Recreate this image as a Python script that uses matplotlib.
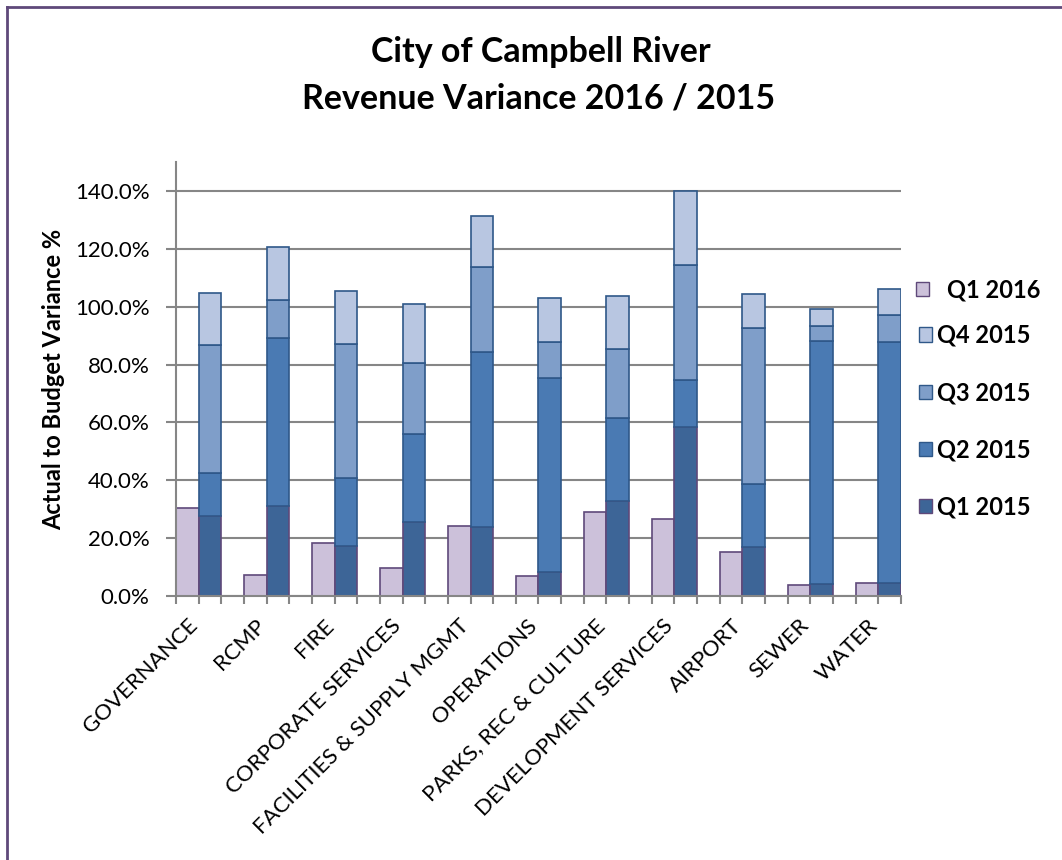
import numpy as np
import matplotlib.pyplot as plt
from matplotlib.lines import Line2D
from matplotlib.patches import Patch

plt.rcParams['font.family'] = ['Lato', 'DejaVu Sans']

categories = ['GOVERNANCE', 'RCMP', 'FIRE', 'CORPORATE SERVICES', 'FACILITIES & SUPPLY MGMT',
              'OPERATIONS', 'PARKS, REC & CULTURE', 'DEVELOPMENT SERVICES', 'AIRPORT', 'SEWER', 'WATER']
q1_2016 = [30.4, 7.3, 18.2, 9.6, 24.3, 6.9, 29.1, 26.6, 15.3, 3.7, 4.5]
q1_2015 = [27.8, 31.2, 17.2, 25.6, 23.7, 8.2, 32.7, 58.3, 16.8, 4.1, 4.6]
q2_2015 = [14.8, 57.9, 23.6, 30.5, 60.6, 67.1, 28.9, 16.5, 21.9, 83.9, 83.1]
q3_2015 = [44.3, 13.1, 46.2, 24.3, 29.3, 12.6, 23.9, 39.6, 53.8, 5.3, 9.3]
q4_2015 = [17.9, 18.5, 18.5, 20.4, 17.9, 15.2, 18.1, 25.7, 12.0, 5.9, 9.1]
yticks = [0, 20, 40, 60, 80, 100, 120, 140]

fig = plt.figure(figsize=(10.62, 8.6), dpi=100)
ax = fig.add_axes([0.1657, 0.307, 0.6827, 0.5046])

n = len(categories)
x16 = np.arange(n) * 3 + 0.5
x15 = x16 + 1

grid_c = '#868686'
ax.set_axisbelow(True)
ax.yaxis.grid(True, color=grid_c, lw=1.5)

ax.bar(x16, q1_2016, width=1, color='#ccc1da', edgecolor='#5f497a', lw=1.2)
stack = [(q1_2015, '#3d6597', '#5f497a'), (q2_2015, '#4a7ab3', '#2f5889'),
         (q3_2015, '#7f9ec9', '#2f5889'), (q4_2015, '#b8c6e1', '#2f5889')]
bottom = np.zeros(n)
for vals, fc, ec in stack:
    ax.bar(x15, vals, width=1, bottom=bottom, color=fc, edgecolor=ec, lw=1.2)
    bottom += np.array(vals)

ax.set_xlim(0, 32)
ax.set_ylim(0, 150)
ax.set_yticks(yticks)
ax.set_yticklabels(['%.1f%%' % v for v in yticks], fontsize=16)
ax.set_xticks(x16)
ax.set_xticklabels(categories, rotation=45, ha='right', rotation_mode='anchor', fontsize=16)
ax.set_xticks(np.arange(0, 33), minor=True)
ax.tick_params(axis='x', which='major', length=0, pad=14)
ax.tick_params(axis='x', which='minor', length=6, width=1.5, color=grid_c)
ax.tick_params(axis='y', length=7, width=1.5, color=grid_c, pad=12)
for s in ['top', 'right']:
    ax.spines[s].set_visible(False)
for s in ['left', 'bottom']:
    ax.spines[s].set_color(grid_c)
    ax.spines[s].set_linewidth(1.5)

ax.set_ylabel('Actual to Budget Variance %', fontsize=17, fontweight='bold', labelpad=7)

fig.text(0.509, 0.94, 'City of Campbell River', ha='center', va='center', fontsize=24.5, fontweight='bold')
fig.text(0.507, 0.886, 'Revenue Variance 2016 / 2015', ha='center', va='center', fontsize=24.5, fontweight='bold')

leg_prop = {'weight': 'bold', 'size': 17}
fig.legend([Patch(fc='#ccc1da', ec='#5f497a')], ['Q1 2016'], loc='center left',
           bbox_to_anchor=(0.8625, 0.6628), frameon=False, prop=leg_prop,
           borderpad=0, borderaxespad=0, handlelength=0.55, handleheight=0.55, handletextpad=0.75)
handles = [Patch(fc='#b8c6e1', ec='#2f5889'), Patch(fc='#7f9ec9', ec='#2f5889'),
           Patch(fc='#4a7ab3', ec='#2f5889'), Patch(fc='#3d6597', ec='#5f497a')]
labels = ['Q4 2015', 'Q3 2015', 'Q2 2015', 'Q1 2015']
fig.legend(handles, labels, loc='upper left', bbox_to_anchor=(0.8655, 0.6233), frameon=False,
           prop=leg_prop, borderpad=0, borderaxespad=0, labelspacing=1.45, handlelength=0.55,
           handleheight=0.55, handletextpad=0.2)

# purple border (left and top only visible)
fig.add_artist(Line2D([0.0066, 0.0066], [0, 0.9922], color='#5f497a', lw=2, transform=fig.transFigure))
fig.add_artist(Line2D([0.0066, 1], [0.9922, 0.9922], color='#5f497a', lw=2, transform=fig.transFigure))

fig.savefig('out.png', dpi=100)
